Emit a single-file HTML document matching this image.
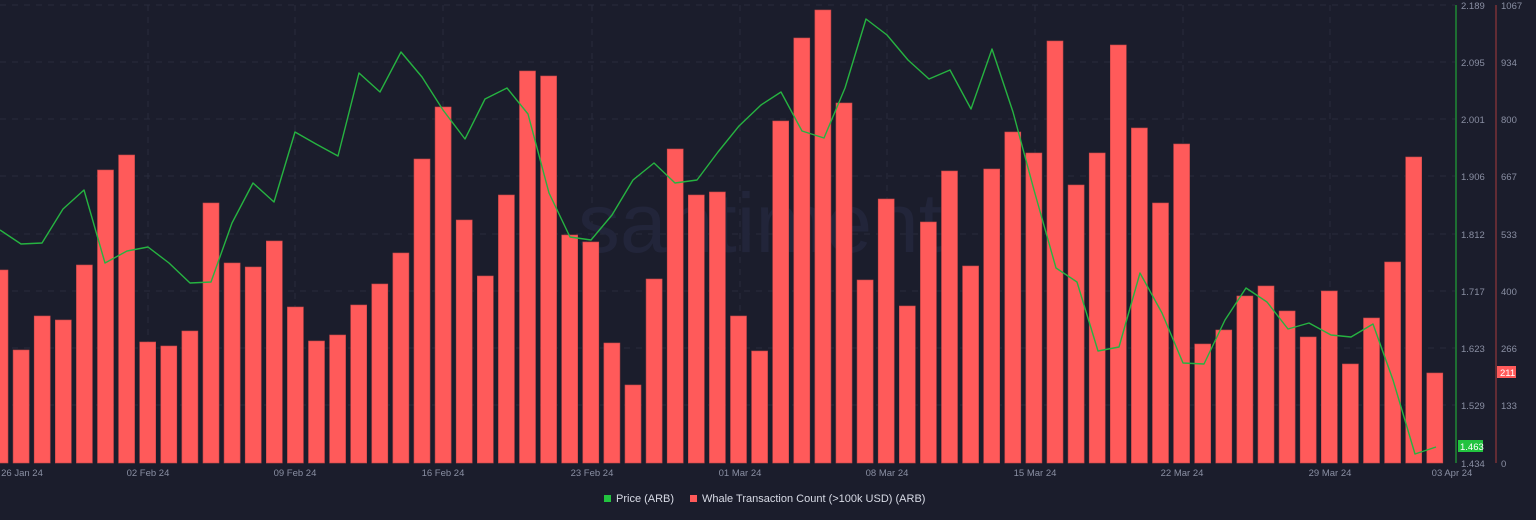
<!DOCTYPE html>
<html><head><meta charset="utf-8"><style>
html,body{margin:0;padding:0;background:#1b1d2c;}
svg{display:block;font-family:"Liberation Sans",sans-serif;}
</style></head><body>
<svg width="1536" height="520" viewBox="0 0 1536 520" xmlns="http://www.w3.org/2000/svg">
<rect width="1536" height="520" fill="#1b1d2c"/>
<g stroke="#282b3d" stroke-width="1" stroke-dasharray="6,6">
<line x1="0" y1="5" x2="1455" y2="5"/><line x1="0" y1="62" x2="1455" y2="62"/><line x1="0" y1="119" x2="1455" y2="119"/><line x1="0" y1="176" x2="1455" y2="176"/><line x1="0" y1="234" x2="1455" y2="234"/><line x1="0" y1="291" x2="1455" y2="291"/><line x1="0" y1="348" x2="1455" y2="348"/><line x1="0" y1="405" x2="1455" y2="405"/>
<line x1="148" y1="5" x2="148" y2="463"/><line x1="295" y1="5" x2="295" y2="463"/><line x1="443" y1="5" x2="443" y2="463"/><line x1="592" y1="5" x2="592" y2="463"/><line x1="740" y1="5" x2="740" y2="463"/><line x1="887" y1="5" x2="887" y2="463"/><line x1="1035" y1="5" x2="1035" y2="463"/><line x1="1183" y1="5" x2="1183" y2="463"/><line x1="1330" y1="5" x2="1330" y2="463"/>
</g>
<text x="760" y="252" font-size="84" fill="#22253a" text-anchor="middle">santiment</text>
<g fill="#ff5a5a" stroke="#c94848" stroke-width="0.6">
<rect x="-8" y="270" width="16" height="193"/>
<rect x="13.1" y="350" width="16" height="113"/>
<rect x="34.2" y="316" width="16" height="147"/>
<rect x="55.3" y="320" width="16" height="143"/>
<rect x="76.4" y="265" width="16" height="198"/>
<rect x="97.5" y="170" width="16" height="293"/>
<rect x="118.6" y="155" width="16" height="308"/>
<rect x="139.7" y="342" width="16" height="121"/>
<rect x="160.8" y="346" width="16" height="117"/>
<rect x="181.9" y="331" width="16" height="132"/>
<rect x="203" y="203" width="16" height="260"/>
<rect x="224.1" y="263" width="16" height="200"/>
<rect x="245.2" y="267" width="16" height="196"/>
<rect x="266.3" y="241" width="16" height="222"/>
<rect x="287.4" y="307" width="16" height="156"/>
<rect x="308.5" y="341" width="16" height="122"/>
<rect x="329.6" y="335" width="16" height="128"/>
<rect x="350.7" y="305" width="16" height="158"/>
<rect x="371.8" y="284" width="16" height="179"/>
<rect x="392.9" y="253" width="16" height="210"/>
<rect x="414" y="159" width="16" height="304"/>
<rect x="435.1" y="107" width="16" height="356"/>
<rect x="456.2" y="220" width="16" height="243"/>
<rect x="477.3" y="276" width="16" height="187"/>
<rect x="498.4" y="195" width="16" height="268"/>
<rect x="519.5" y="71" width="16" height="392"/>
<rect x="540.6" y="76" width="16" height="387"/>
<rect x="561.7" y="235" width="16" height="228"/>
<rect x="582.8" y="242" width="16" height="221"/>
<rect x="603.9" y="343" width="16" height="120"/>
<rect x="625" y="385" width="16" height="78"/>
<rect x="646.1" y="279" width="16" height="184"/>
<rect x="667.2" y="149" width="16" height="314"/>
<rect x="688.3" y="195" width="16" height="268"/>
<rect x="709.4" y="192" width="16" height="271"/>
<rect x="730.5" y="316" width="16" height="147"/>
<rect x="751.6" y="351" width="16" height="112"/>
<rect x="772.7" y="121" width="16" height="342"/>
<rect x="793.8" y="38" width="16" height="425"/>
<rect x="814.9" y="10" width="16" height="453"/>
<rect x="836" y="103" width="16" height="360"/>
<rect x="857.1" y="280" width="16" height="183"/>
<rect x="878.2" y="199" width="16" height="264"/>
<rect x="899.3" y="306" width="16" height="157"/>
<rect x="920.4" y="222" width="16" height="241"/>
<rect x="941.5" y="171" width="16" height="292"/>
<rect x="962.6" y="266" width="16" height="197"/>
<rect x="983.7" y="169" width="16" height="294"/>
<rect x="1004.8" y="132" width="16" height="331"/>
<rect x="1025.9" y="153" width="16" height="310"/>
<rect x="1047" y="41" width="16" height="422"/>
<rect x="1068.1" y="185" width="16" height="278"/>
<rect x="1089.2" y="153" width="16" height="310"/>
<rect x="1110.3" y="45" width="16" height="418"/>
<rect x="1131.4" y="128" width="16" height="335"/>
<rect x="1152.5" y="203" width="16" height="260"/>
<rect x="1173.6" y="144" width="16" height="319"/>
<rect x="1194.7" y="344" width="16" height="119"/>
<rect x="1215.8" y="330" width="16" height="133"/>
<rect x="1236.9" y="296" width="16" height="167"/>
<rect x="1258" y="286" width="16" height="177"/>
<rect x="1279.1" y="311" width="16" height="152"/>
<rect x="1300.2" y="337" width="16" height="126"/>
<rect x="1321.3" y="291" width="16" height="172"/>
<rect x="1342.4" y="364" width="16" height="99"/>
<rect x="1363.5" y="318" width="16" height="145"/>
<rect x="1384.6" y="262" width="16" height="201"/>
<rect x="1405.7" y="157" width="16" height="306"/>
<rect x="1426.8" y="373" width="16" height="90"/>
</g>
<polyline fill="none" stroke="#26b341" stroke-width="1.4" stroke-linejoin="round" points="0,230 21,244 42,243 63,209 84,190 105,263 127,251 148,247 169,263 190,283 211,282 232,223 253,183 274,202 295,132 316,144 338,156 359,73 380,92 401,52 422,77 443,110 465,139 485,99 507,88 528,114 549,193 570,237 591,240 612,215 633,180 654,163 675,183 697,180 718,152 739,126 761,105 781,92 802,131 824,138 845,88 866,19 887,35 908,60 929,79 950,70 971,109 992,49 1013,112 1034,190 1056,268 1077,282 1098,351 1119,347 1140,273 1162,313 1183,363 1204,364 1225,320 1246,288 1267,302 1288,329 1309,323 1331,335 1351,337 1373,324 1393,380 1415,454 1436,447"/>
<line x1="1456" y1="5" x2="1456" y2="463" stroke="#1f8a35" stroke-width="1.5"/>
<line x1="1496" y1="5" x2="1496" y2="463" stroke="#7a3236" stroke-width="1.5"/>
<g font-size="9.5" fill="#8a8fa3">
<text x="1461" y="9">2.189</text><text x="1461" y="66">2.095</text><text x="1461" y="123">2.001</text><text x="1461" y="180">1.906</text><text x="1461" y="238">1.812</text><text x="1461" y="295">1.717</text><text x="1461" y="352">1.623</text><text x="1461" y="409">1.529</text><text x="1461" y="467">1.434</text>
<text x="1501" y="9">1067</text><text x="1501" y="66">934</text><text x="1501" y="123">800</text><text x="1501" y="180">667</text><text x="1501" y="238">533</text><text x="1501" y="295">400</text><text x="1501" y="352">266</text><text x="1501" y="409">133</text><text x="1501" y="467">0</text>
</g>
<rect x="1497" y="366" width="19" height="12" fill="#ff5a5a"/>
<text x="1500" y="376" font-size="9.5" fill="#fff">211</text>
<rect x="1458" y="440" width="25" height="12" fill="#22c33f"/>
<text x="1460" y="450" font-size="9.5" fill="#fff">1.463</text>
<g font-size="9.5" fill="#8a8fa3" text-anchor="middle">
<text x="22" y="476">26 Jan 24</text><text x="148" y="476">02 Feb 24</text><text x="295" y="476">09 Feb 24</text><text x="443" y="476">16 Feb 24</text><text x="592" y="476">23 Feb 24</text><text x="740" y="476">01 Mar 24</text><text x="887" y="476">08 Mar 24</text><text x="1035" y="476">15 Mar 24</text><text x="1182" y="476">22 Mar 24</text><text x="1330" y="476">29 Mar 24</text><text x="1452" y="476">03 Apr 24</text>
</g>
<rect x="604" y="495" width="7" height="7" fill="#22c33f"/>
<text x="616" y="502" font-size="11" fill="#d8dbe6">Price (ARB)</text>
<rect x="690" y="495" width="7" height="7" fill="#ff5a5a"/>
<text x="702" y="502" font-size="11" fill="#d8dbe6">Whale Transaction Count (&gt;100k USD) (ARB)</text>
</svg>
</body></html>
